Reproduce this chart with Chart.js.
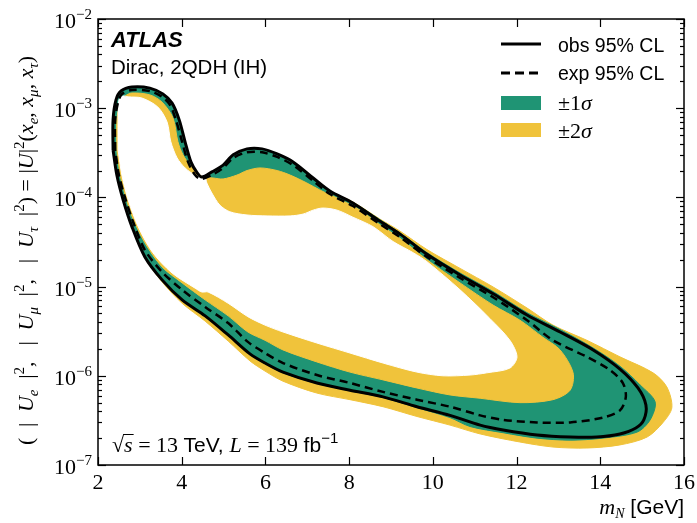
<!DOCTYPE html>
<html>
<head>
<meta charset="utf-8">
<script src="https://cdn.jsdelivr.net/npm/chart.js@4.4.1/dist/chart.umd.min.js"></script>
<style>
  html, body { margin: 0; padding: 0; background: #fff; }
</style>
</head>
<body>
<canvas id="chartCanvas" width="697" height="523"></canvas>
<script>
// contours as [mass in GeV, |U|^2] pairs, each a closed loop
const obsContour = [
  [2.36, 3.4e-4], [2.36, 7.4e-4], [2.43, 1.24e-3], [2.55, 1.56e-3], [2.81, 1.73e-3],
  [3.24, 1.68e-3], [3.55, 1.44e-3], [3.77, 1.14e-3], [3.94, 7.4e-4], [4.08, 4.2e-4],
  [4.22, 2.5e-4], [4.37, 1.88e-4], [4.48, 1.69e-4], [4.72, 1.93e-4], [4.99, 2.3e-4],
  [5.23, 3.0e-4], [5.56, 3.5e-4], [5.92, 3.5e-4], [6.28, 3.07e-4], [6.66, 2.5e-4],
  [7.14, 1.65e-4], [7.54, 1.18e-4], [8.09, 8.65e-5], [8.74, 5.4e-5], [9.21, 3.9e-5],
  [9.86, 2.3e-5], [10.65, 1.35e-5], [11.44, 8.3e-6], [12.25, 4.8e-6], [13.04, 3.1e-6],
  [13.83, 1.95e-6], [14.47, 1.19e-6], [14.90, 7.3e-7], [15.09, 4.7e-7], [15.04, 3.2e-7],
  [14.85, 2.6e-7], [14.47, 2.23e-7], [13.92, 2.06e-7], [13.28, 2.06e-7], [12.49, 2.17e-7],
  [11.68, 2.47e-7], [11.13, 2.8e-7], [10.41, 3.6e-7], [9.62, 4.5e-7], [8.81, 5.8e-7],
  [8.02, 6.9e-7], [7.23, 8.3e-7], [6.42, 1.1e-6], [5.99, 1.39e-6], [5.63, 1.76e-6],
  [5.11, 2.87e-6], [4.56, 4.7e-6], [4.01, 7.1e-6], [3.53, 1.19e-5], [3.12, 2.15e-5],
  [2.81, 4.7e-5], [2.60, 9.4e-5], [2.45, 1.78e-4], [2.36, 3.4e-4]
];

const expContour = [
  [2.41, 3.4e-4], [2.41, 7.4e-4], [2.48, 1.17e-3], [2.57, 1.44e-3], [2.81, 1.6e-3],
  [3.24, 1.56e-3], [3.53, 1.34e-3], [3.72, 1.09e-3], [3.86, 7.4e-4], [4.01, 4.2e-4],
  [4.15, 2.5e-4], [4.32, 1.78e-4], [4.46, 1.61e-4], [4.72, 1.78e-4], [4.99, 2.14e-4],
  [5.23, 2.77e-4], [5.56, 3.2e-4], [5.92, 3.2e-4], [6.28, 2.84e-4], [6.66, 2.3e-4],
  [7.14, 1.53e-4], [7.54, 1.09e-4], [8.09, 8.0e-5], [8.74, 5.0e-5], [9.21, 3.6e-5],
  [9.86, 2.15e-5], [10.65, 1.25e-5], [11.44, 7.6e-6], [12.25, 4.2e-6], [12.87, 2.5e-6],
  [13.68, 1.63e-6], [14.23, 1.16e-6], [14.54, 8.3e-7], [14.61, 5.8e-7], [14.47, 4.1e-7],
  [14.06, 3.4e-7], [13.28, 3.0e-7], [12.49, 3.0e-7], [11.68, 3.2e-7], [11.13, 3.6e-7],
  [10.41, 4.5e-7], [9.62, 5.4e-7], [8.81, 6.6e-7], [8.02, 8.3e-7], [7.23, 1.02e-6],
  [6.42, 1.39e-6], [5.99, 1.8e-6], [5.58, 2.4e-6], [5.11, 3.9e-6], [4.56, 5.9e-6],
  [4.01, 9.2e-6], [3.53, 1.46e-5], [3.12, 2.57e-5], [2.84, 5.3e-5], [2.65, 9.8e-5],
  [2.50, 1.78e-4], [2.41, 3.4e-4]
];

// outer edge of the +-2 sigma band
const plus2Contour = [
  [2.36, 3.4e-4], [2.36, 7.4e-4], [2.43, 1.24e-3], [2.55, 1.56e-3], [2.81, 1.73e-3],
  [3.24, 1.68e-3], [3.55, 1.44e-3], [3.77, 1.14e-3], [3.94, 7.4e-4], [4.08, 4.2e-4],
  [4.22, 2.5e-4], [4.37, 1.88e-4], [4.48, 1.69e-4], [4.72, 1.93e-4], [4.99, 2.3e-4],
  [5.23, 3.0e-4], [5.56, 3.5e-4], [5.92, 3.5e-4], [6.28, 3.07e-4], [6.66, 2.5e-4],
  [7.14, 1.65e-4], [7.54, 1.18e-4], [8.09, 8.9e-5], [8.74, 5.7e-5], [9.21, 4.2e-5],
  [9.86, 2.6e-5], [10.65, 1.6e-5], [11.44, 9.9e-6], [12.25, 5.75e-6], [12.87, 3.7e-6],
  [13.68, 2.5e-6], [14.47, 1.63e-6], [15.26, 1.08e-6], [15.59, 7.5e-7], [15.71, 4.4e-7],
  [15.50, 3.0e-7], [15.12, 2.06e-7], [14.47, 1.68e-7], [13.68, 1.55e-7], [12.87, 1.59e-7],
  [12.08, 1.81e-7], [11.13, 2.23e-7], [10.41, 2.8e-7], [9.62, 3.5e-7], [8.81, 4.5e-7],
  [8.02, 5.4e-7], [7.23, 6.4e-7], [6.42, 8.7e-7], [5.99, 1.13e-6], [5.63, 1.47e-6],
  [5.11, 2.45e-6], [4.56, 4.1e-6], [4.01, 6.5e-6], [3.53, 1.13e-5], [3.12, 2.1e-5],
  [2.81, 4.7e-5], [2.60, 9.4e-5], [2.45, 1.78e-4], [2.36, 3.4e-4]
];

// outer edge of the +-1 sigma band
const plus1Contour = [
  [2.36, 3.4e-4], [2.36, 7.4e-4], [2.43, 1.24e-3], [2.55, 1.56e-3], [2.81, 1.73e-3],
  [3.24, 1.68e-3], [3.55, 1.44e-3], [3.77, 1.14e-3], [3.94, 7.4e-4], [4.08, 4.2e-4],
  [4.22, 2.5e-4], [4.37, 1.88e-4], [4.48, 1.69e-4], [4.72, 1.93e-4], [4.99, 2.3e-4],
  [5.23, 3.0e-4], [5.56, 3.5e-4], [5.92, 3.5e-4], [6.28, 3.07e-4], [6.66, 2.5e-4],
  [7.14, 1.65e-4], [7.54, 1.18e-4], [8.09, 8.8e-5], [8.74, 5.6e-5], [9.21, 4.0e-5],
  [9.86, 2.4e-5], [10.65, 1.42e-5], [11.44, 8.8e-6], [12.25, 5.1e-6], [13.04, 3.3e-6],
  [13.83, 2.05e-6], [14.47, 1.28e-6], [14.95, 7.9e-7], [15.31, 5.1e-7], [15.19, 3.2e-7],
  [14.88, 2.34e-7], [14.06, 2.0e-7], [13.28, 1.9e-7], [12.49, 2.0e-7], [11.68, 2.3e-7],
  [10.89, 2.7e-7], [10.41, 3.4e-7], [9.62, 4.4e-7], [8.81, 5.7e-7], [8.02, 6.8e-7],
  [7.23, 8.2e-7], [6.42, 1.08e-6], [5.99, 1.37e-6], [5.63, 1.74e-6], [5.11, 2.85e-6],
  [4.56, 4.6e-6], [4.01, 7.0e-6], [3.53, 1.18e-5], [3.12, 2.15e-5], [2.81, 4.7e-5],
  [2.60, 9.4e-5], [2.45, 1.78e-4], [2.36, 3.4e-4]
];

// inner edge of the +-1 sigma band
const minus1Contour = [
  [2.45, 3.4e-4], [2.45, 7.4e-4], [2.53, 1.14e-3], [2.65, 1.37e-3], [2.81, 1.48e-3],
  [3.24, 1.41e-3], [3.53, 1.17e-3], [3.79, 7.8e-4], [3.91, 4.2e-4], [4.03, 3.0e-4],
  [4.20, 2.3e-4], [4.39, 1.88e-4], [4.51, 1.69e-4], [4.75, 1.65e-4], [4.99, 1.61e-4],
  [5.32, 1.78e-4], [5.56, 2.0e-4], [5.87, 2.14e-4], [6.28, 2.0e-4], [6.59, 1.78e-4],
  [6.99, 1.45e-4], [7.30, 1.21e-4], [7.71, 9.85e-5], [8.26, 7.2e-5], [8.74, 4.9e-5],
  [9.21, 3.5e-5], [9.86, 2.0e-5], [10.65, 1.1e-5], [11.44, 6.2e-6], [12.08, 4.2e-6],
  [12.63, 2.7e-6], [13.04, 1.95e-6], [13.35, 1.08e-6], [13.28, 6.9e-7], [12.87, 5.4e-7],
  [12.08, 5.0e-7], [11.13, 5.6e-7], [10.41, 6.1e-7], [9.62, 7.3e-7], [8.81, 9.0e-7],
  [8.02, 1.1e-6], [7.23, 1.43e-6], [6.42, 1.95e-6], [5.99, 2.5e-6], [5.58, 3.1e-6],
  [5.11, 4.7e-6], [4.56, 7.1e-6], [4.01, 1.1e-5], [3.53, 1.66e-5], [3.12, 3.1e-5],
  [2.81, 6.2e-5], [2.65, 1.06e-4], [2.53, 1.78e-4], [2.45, 3.4e-4]
];

// inner edge of the +-2 sigma band (the unexcluded hole)
const minus2Contour = [
  [2.48, 3.4e-4], [2.48, 7.4e-4], [2.50, 1.24e-3], [2.60, 1.37e-3], [2.72, 1.34e-3],
  [3.05, 1.3e-3], [3.43, 1.03e-3], [3.65, 7.0e-4], [3.74, 4.2e-4], [3.89, 2.77e-4],
  [4.08, 2.14e-4], [4.32, 1.78e-4], [4.56, 1.65e-4], [4.60, 1.45e-4], [4.72, 1.12e-4],
  [4.91, 8.2e-5], [5.15, 6.9e-5], [5.56, 6.35e-5], [6.04, 6.2e-5], [6.59, 6.2e-5],
  [6.90, 6.5e-5], [7.14, 7.2e-5], [7.37, 7.6e-5], [7.71, 7.2e-5], [8.09, 6.0e-5],
  [8.57, 4.7e-5], [9.05, 3.2e-5], [9.53, 2.4e-5], [9.86, 1.9e-5], [10.65, 9.2e-6],
  [11.36, 4.4e-6], [11.84, 2.5e-6], [12.01, 1.63e-6], [11.84, 1.22e-6], [11.29, 1.08e-6],
  [10.89, 1.02e-6], [10.24, 1.0e-6], [9.62, 1.1e-6], [8.81, 1.39e-6], [8.02, 1.8e-6],
  [7.23, 2.33e-6], [6.42, 3.1e-6], [5.99, 3.7e-6], [5.58, 4.6e-6], [5.11, 6.5e-6],
  [4.63, 8.7e-6], [4.48, 8.7e-6], [4.32, 9.6e-6], [3.77, 1.42e-5], [3.31, 2.4e-5],
  [2.96, 4.7e-5], [2.72, 9.4e-5], [2.57, 1.78e-4], [2.48, 3.4e-4]
];

const massTicks = [2, 4, 6, 8, 10, 12, 14, 16];
const couplingTicks = [1e-7, 1e-6, 1e-5, 1e-4, 1e-3, 1e-2];
const couplingExponents = ["\u22127", "\u22126", "\u22125", "\u22124", "\u22123", "\u22122"];

const GREEN = "#1f9474";
const YELLOW = "#f0c33b";
const SERIF = '"Liberation Serif", "DejaVu Serif", serif';
const SANS = '"Liberation Sans", Arial, sans-serif';

function contour(points, opts) {
  return Object.assign(
    {
      data: points.map(([x, y]) => ({ x: x, y: y })),
      pointRadius: 0,
      tension: 0.3,
    },
    opts
  );
}

// draws a run of [text, font, dy] pieces left to right, returns the end x
// a piece with font "gap" is an empty space of width gapUnit * weight
function drawRich(ctx, parts, x, y, gapUnit) {
  let cx = x;
  parts.forEach(([t, font, dy]) => {
    if (font === "gap") {
      cx += (gapUnit || 0) * t;
      return;
    }
    ctx.font = font;
    ctx.fillText(t, cx, y + (dy || 0));
    cx += ctx.measureText(t).width;
  });
  return cx;
}

function richWidth(ctx, parts) {
  let w = 0;
  parts.forEach(([t, font]) => {
    if (font === "gap") return;
    ctx.font = font;
    w += ctx.measureText(t).width;
  });
  return w;
}

function gapWeight(parts) {
  return parts.reduce((s, [t, font]) => (font === "gap" ? s + t : s), 0);
}

const decorations = {
  id: "decorations",
  afterDraw(chart) {
    const { ctx, chartArea: a } = chart;
    const xs = chart.scales.x;
    const ys = chart.scales.y;
    ctx.save();
    ctx.strokeStyle = "#000";
    ctx.fillStyle = "#000";
    ctx.lineWidth = 1.5;
    ctx.strokeRect(a.left, a.top, a.right - a.left, a.bottom - a.top);

    const seg = (x1, y1, x2, y2) => {
      ctx.beginPath();
      ctx.moveTo(x1, y1);
      ctx.lineTo(x2, y2);
      ctx.stroke();
    };
    ctx.lineWidth = 1.2;
    massTicks.forEach((v) => {
      const px = Math.round(xs.getPixelForValue(v)) + 0.5;
      seg(px, a.bottom, px, a.bottom - 8);
      seg(px, a.top, px, a.top + 8);
    });
    couplingTicks.forEach((v, i) => {
      for (let m = 1; m < 10; m++) {
        if (m > 1 && i === couplingTicks.length - 1) break;
        const py = Math.round(ys.getPixelForValue(v * m)) + 0.5;
        const len = m === 1 ? 8 : 4;
        seg(a.left, py, a.left + len, py);
        seg(a.right, py, a.right - len, py);
      }
    });

    // tick labels
    ctx.textBaseline = "alphabetic";
    ctx.textAlign = "center";
    ctx.font = "22px " + SERIF;
    massTicks.forEach((v) => {
      ctx.fillText(String(v), xs.getPixelForValue(v), a.bottom + 24);
    });
    ctx.textAlign = "left";
    couplingTicks.forEach((v, i) => {
      const py = ys.getPixelForValue(v);
      const parts = [
        ["10", "22px " + SERIF, 0],
        [couplingExponents[i], "15px " + SERIF, -9],
      ];
      drawRich(ctx, parts, a.left - 6 - richWidth(ctx, parts), py + 9);
    });

    // axis titles
    const xTitle = [
      ["m", "italic 22px " + SERIF, 0],
      ["N", "italic 14px " + SERIF, 4],
      [" [GeV]", "21px " + SANS, 0],
    ];
    drawRich(ctx, xTitle, a.right - richWidth(ctx, xTitle), 514);

    const it = "italic 22px " + SERIF;
    const rm = "22px " + SERIF;
    const sub = "italic 15px " + SERIF;
    const sup = "15px " + SERIF;
    // bars get relation-style spacing in the first part, as in the original
    const yTitleLeft = [
      ["(", rm], [1, "gap"],
      ["|", rm], [1, "gap"], ["U", it], ["e", sub, 5], [1, "gap"], ["|", rm], ["2", sup, -9], [",", rm], [1.5, "gap"],
      ["|", rm], [1, "gap"], ["U", it], ["\u03bc", sub, 5], [1, "gap"], ["|", rm], ["2", sup, -9], [",", rm], [1.5, "gap"],
      ["|", rm], [1, "gap"], ["U", it], ["\u03c4", sub, 5], [1, "gap"], ["|", rm], ["2", sup, -9], [")", rm],
    ];
    const yTitleRight = [
      [" = |", rm], ["U", it], ["|", rm], ["2", sup, -9], ["(", rm],
      ["x", it], ["e", sub, 5], [", ", rm], ["x", it], ["\u03bc", sub, 5],
      [", ", rm], ["x", it], ["\u03c4", sub, 5], [")", rm],
    ];
    const leftLen = 248;
    const unit = (leftLen - richWidth(ctx, yTitleLeft)) / gapWeight(yTitleLeft);
    ctx.save();
    ctx.translate(33, 445);
    ctx.rotate(-Math.PI / 2);
    const mid = drawRich(ctx, yTitleLeft, 0, 0, unit);
    drawRich(ctx, yTitleRight, mid, 0);
    ctx.restore();

    // labels inside the frame
    ctx.font = "bold italic 22px " + SANS;
    ctx.fillText("ATLAS", 111, 47);
    ctx.font = "20.5px " + SANS;
    ctx.fillText("Dirac, 2QDH (IH)", 111, 74);

    let cx = drawRich(ctx, [["\u221a", "22px " + SERIF, 0]], 112, 452);
    ctx.font = "italic 22px " + SERIF;
    const sw = ctx.measureText("s").width;
    ctx.lineWidth = 1;
    seg(cx - 1, 434.5, cx + sw + 1, 434.5);
    drawRich(
      ctx,
      [
        ["s", "italic 22px " + SERIF, 0],
        [" = 13 ", "22px " + SERIF, 0],
        ["TeV, ", "21px " + SANS, 0],
        ["L", "italic 22px " + SERIF, 0],
        [" = 139 ", "22px " + SERIF, 0],
        ["fb", "21px " + SANS, 0],
        ["\u22121", "15px " + SANS, -9],
      ],
      cx,
      452
    );

    // legend
    const lx = 501;
    ctx.lineWidth = 3;
    seg(lx, 44, lx + 40, 44);
    ctx.setLineDash([9, 5]);
    seg(lx, 73, lx + 40, 73);
    ctx.setLineDash([]);
    ctx.fillStyle = GREEN;
    ctx.fillRect(lx, 96, 40, 14);
    ctx.fillStyle = YELLOW;
    ctx.fillRect(lx, 123, 40, 14);
    ctx.fillStyle = "#000";
    ctx.font = "19.5px " + SANS;
    ctx.fillText("obs 95% CL", 558, 52);
    ctx.fillText("exp 95% CL", 558, 80);
    drawRich(ctx, [["\u00b11", rm], ["\u03c3", it]], 558, 110);
    drawRich(ctx, [["\u00b12", rm], ["\u03c3", it]], 558, 138);
    ctx.restore();
  },
};

const ctx = document.getElementById("chartCanvas").getContext("2d");

const datasets = [
  contour(obsContour, { label: "obs 95% CL", borderColor: "#000", borderWidth: 3, fill: false, order: 1 }),
  contour(expContour, { label: "exp 95% CL", borderColor: "#000", borderWidth: 2.5, borderDash: [8, 5], fill: false, order: 2 }),
  contour(minus2Contour, { label: "-2 sigma", borderColor: "#fff", borderWidth: 1, backgroundColor: "#fff", fill: "shape", order: 3 }),
  contour(minus1Contour, { label: "-1 sigma", borderColor: YELLOW, borderWidth: 1, backgroundColor: YELLOW, fill: "shape", order: 4 }),
  contour(plus1Contour, { label: "+1 sigma", borderColor: GREEN, borderWidth: 1, backgroundColor: GREEN, fill: "shape", order: 5 }),
  contour(plus2Contour, { label: "+2 sigma", borderColor: YELLOW, borderWidth: 1, backgroundColor: YELLOW, fill: "shape", order: 6 }),
];

window.myChart = new Chart(ctx, {
  type: "line",
  data: { datasets: datasets },
  options: {
    responsive: false,
    animation: false,
    layout: { padding: { left: 98, top: 19, right: 13, bottom: 58 } },
    scales: {
      x: { type: "linear", min: 2, max: 16, display: false },
      y: { type: "logarithmic", min: 1e-7, max: 1e-2, display: false },
    },
    plugins: {
      legend: { display: false },
      tooltip: { enabled: false },
    },
  },
  plugins: [decorations],
});
</script>
</body>
</html>
